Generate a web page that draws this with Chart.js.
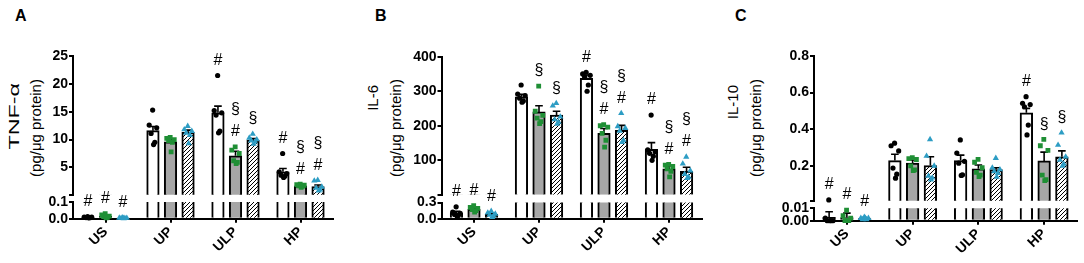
<!DOCTYPE html>
<html><head><meta charset="utf-8">
<script src="https://cdn.jsdelivr.net/npm/chart.js"></script>
<style>
html,body{margin:0;padding:0;background:#fff;}
#wrap{position:relative;width:1084px;height:263px;overflow:hidden;font-family:"Liberation Sans",Arial,Helvetica,sans-serif;background:#fff;}
#wrap canvas{position:absolute;}
.lbl{position:absolute;font-weight:bold;font-size:16px;line-height:16px;color:#000;}
.yt{position:absolute;transform-origin:0 0;transform:rotate(-90deg);font-size:15px;line-height:18px;height:18px;white-space:nowrap;color:#000;}
.yt.end{width:120px;text-align:right;}
.yt.mid{width:160px;text-align:center;}
.stretch{display:inline-block;transform:scaleX(1.55);transform-origin:100% 50%;}
</style></head><body>
<div id="wrap">
<div class="lbl" style="left:15px;top:8px">A</div>
<div class="lbl" style="left:375px;top:8px">B</div>
<div class="lbl" style="left:735px;top:8px">C</div>
<div class="yt end" style="left:5.2px;top:203px"><span class="stretch">TNF-α</span></div>
<div class="yt mid" style="left:26.8px;top:208px">(pg/μg protein)</div>
<div class="yt end" style="left:363.5px;top:205px">IL-6</div>
<div class="yt mid" style="left:386.7px;top:208px">(pg/μg protein)</div>
<div class="yt end" style="left:723.5px;top:205px">IL-10</div>
<div class="yt mid" style="left:746.7px;top:208px">(pg/μg protein)</div>
</div>
<script>
const FAM = '"Liberation Sans", Arial, Helvetica, sans-serif';
Chart.defaults.font.family = FAM;
Chart.defaults.color = '#000';

const categories = ['US', 'UP', 'ULP', 'HP'];
// series order: [white bars / black dots, grey bars / green squares, hatched bars / teal triangles]

// ---------- Panel A : TNF-α ----------
const tnfMeans = [
  [0.008, 11.6, 14.8, 4.2],
  [0.015, 9.6, 7.1, 1.7],
  [0.004, 11.3, 9.9, 1.55]
];
const tnfSems = [
  [0.002, 0.75, 1.2, 0.6],
  [0.004, 0.4, 0.8, 0.1],
  [0.001, 0.4, 0.3, 0.3]
];
const tnfPoints = [
  [[0.012, 0.01, 0.009, 0.007, 0.006, 0.005], [15.3, 12.6, 12.1, 11.1, 9.5, 9.1], [21.5, 15.2, 14.8, 14.4, 11.5, 11.2], [7.5, 4.2, 3.9, 3.6, 3.4, 3.2]],
  [[0.03, 0.022, 0.015, 0.012, 0.008, 0.005], [10.4, 10.2, 10.0, 9.8, 9.5, 7.8], [8.7, 8.1, 7.5, 6.2, 5.9, 5.7], [2.0, 1.9, 1.8, 1.7, 1.6, 1.4]],
  [[0.006, 0.005, 0.004, 0.004, 0.003, 0.002], [12.4, 11.8, 11.5, 11.2, 10.8, 9.3], [11.0, 10.3, 10.0, 9.8, 9.6, 9.2], [2.7, 2.6, 1.5, 1.3, 1.0, 0.8]]
];
const tnfMarks = [
  [['#'], [], ['#'], ['#']],
  [['#'], [], ['#', '§'], ['#', '§']],
  [['#'], [], ['§'], ['#', '§']]
];
const tnfUpperTicks = [5, 10, 15, 20, 25];
const tnfUpperLabels = ['5', '10', '15', '20', '25'];
const tnfLowerTicks = [0, 0.1];
const tnfLowerLabels = ['0.0', '0.1'];

// ---------- Panel B : IL-6 ----------
const il6Means = [
  [0.105, 284, 337, 132],
  [0.175, 240, 178, 75],
  [0.08, 231, 187, 68]
];
const il6Sems = [
  [0.03, 7, 10, 19],
  [0.02, 18, 14, 9],
  [0.02, 11, 14, 12]
];
const il6Points = [
  [[0.22, 0.12, 0.10, 0.08, 0.06, 0.05], [318, 292, 287, 280, 272, 268], [355, 350, 346, 342, 318, 300], [231, 130, 125, 120, 112, 100]],
  [[0.24, 0.21, 0.19, 0.17, 0.15, 0.12], [315, 242, 230, 222, 212, 206], [203, 200, 196, 178, 158, 138], [88, 86, 82, 75, 68, 52]],
  [[0.14, 0.11, 0.09, 0.07, 0.05, 0.03], [265, 258, 226, 218, 211, 205], [236, 198, 193, 185, 158, 152], [110, 90, 70, 60, 52, 48]]
];
const il6Marks = [
  [['#'], [], ['#'], ['#']],
  [['#'], ['§'], ['#', '§'], ['#', '§']],
  [['#'], ['§'], ['#', '§'], ['#', '§']]
];
const il6UpperTicks = [100, 200, 300, 400];
const il6UpperLabels = ['100', '200', '300', '400'];
const il6LowerTicks = [0, 0.3];
const il6LowerLabels = ['0.0', '0.3'];

// ---------- Panel C : IL-10 ----------
const il10Means = [
  [0.0027, 0.229, 0.229, 0.49],
  [0.0026, 0.215, 0.184, 0.227],
  [0.0018, 0.202, 0.18, 0.25]
];
const il10Sems = [
  [0.0045, 0.035, 0.03, 0.024],
  [0.0035, 0.018, 0.021, 0.048],
  [0.0004, 0.048, 0.01, 0.032]
];
const il10Points = [
  [[0.014, 0.002, 0.0, 0.0, 0.0, 0.0], [0.324, 0.31, 0.282, 0.188, 0.155, 0.133], [0.342, 0.27, 0.225, 0.215, 0.151, 0.148], [0.578, 0.542, 0.535, 0.523, 0.423, 0.369]],
  [[0.0086, 0.004, 0.002, 0.0, 0.0, 0.0], [0.245, 0.24, 0.235, 0.2, 0.178, 0.175], [0.236, 0.22, 0.19, 0.165, 0.15, 0.142], [0.345, 0.31, 0.285, 0.15, 0.125, 0.12]],
  [[0.003, 0.002, 0.002, 0.001, 0.001, 0.002], [0.345, 0.254, 0.2, 0.145, 0.135, 0.124], [0.242, 0.19, 0.18, 0.17, 0.16, 0.14], [0.381, 0.314, 0.25, 0.233, 0.21, 0.2]]
];
const il10Marks = [
  [['#'], [], [], ['#']],
  [['#'], [], [], ['§']],
  [['#'], [], [], ['§']]
];
const il10UpperTicks = [0.2, 0.4, 0.6, 0.8];
const il10UpperLabels = ['0.2', '0.4', '0.6', '0.8'];
const il10LowerTicks = [0, 0.01];
const il10LowerLabels = ['0.00', '0.01'];

// ---------- layout / style ----------
const CAT_PCT = 0.81, BAR_PCT = 0.714;
const SLOT = CAT_PCT / 3;
const HALF_BAR = SLOT * BAR_PCT / 2;
const JIT = [-0.05, -0.6, 0.6, -0.3, 0.3, 0.1];
const GREEN = '#1f8f35', TEAL = '#2d9dc4', GREY = '#a6a6a6';

function hatchPattern() {
  const c = document.createElement('canvas');
  c.width = 4; c.height = 4;
  const g = c.getContext('2d');
  g.fillStyle = '#fff'; g.fillRect(0, 0, 4, 4);
  g.strokeStyle = '#000'; g.lineWidth = 1;
  g.beginPath();
  g.moveTo(-1, 5); g.lineTo(5, -1);
  g.moveTo(-1, 1); g.lineTo(1, -1);
  g.moveTo(3, 5); g.lineTo(5, 3);
  g.stroke();
  return g.createPattern(c, 'repeat');
}
const FILLS = ['#ffffff', GREY, hatchPattern()];
const PSTYLE = ['circle', 'rect', 'triangle'];
const PRAD = [2.6, 3.4, 3.6];
const PCOL = ['#000000', GREEN, TEAL];

const panels = [
  { key: 'A', means: tnfMeans, sems: tnfSems, pts: tnfPoints, marks: tnfMarks,
    upTicks: tnfUpperTicks, upLabels: tnfUpperLabels, loTicks: tnfLowerTicks, loLabels: tnfLowerLabels,
    geo: { left: 0, axisX: 73, xEnd: 333, upTop: 56, upBot: 194.7, loTop: 202, loBot: 218.7 } },
  { key: 'B', means: il6Means, sems: il6Sems, pts: il6Points, marks: il6Marks,
    upTicks: il6UpperTicks, upLabels: il6UpperLabels, loTicks: il6LowerTicks, loLabels: il6LowerLabels,
    geo: { left: 360, axisX: 441.5, xEnd: 701.5, upTop: 56.7, upBot: 194.7, loTop: 202.5, loBot: 218.7 } },
  { key: 'C', means: il10Means, sems: il10Sems, pts: il10Points, marks: il10Marks,
    upTicks: il10UpperTicks, upLabels: il10UpperLabels, loTicks: il10LowerTicks, loLabels: il10LowerLabels,
    geo: { left: 720, axisX: 814, xEnd: 1077, upTop: 56, upBot: 200.7, loTop: 208.3, loBot: 220.7 } }
];

function marksPlugin(p, upper, brk) {
  return {
    id: 'marks' + p.key + (upper ? 'U' : 'L'),
    afterDraw(chart) {
      const ctx = chart.ctx, ys = chart.scales.y, xs = chart.scales.xp;
      ctx.save();
      ctx.fillStyle = '#000';
      ctx.font = '16px ' + FAM;
      ctx.textAlign = 'center';
      ctx.textBaseline = 'middle';
      for (let s = 0; s < 3; s++) for (let i = 0; i < categories.length; i++) {
        const list = p.marks[s][i];
        if (!list.length) continue;
        const topVal = Math.max(p.means[s][i] + p.sems[s][i], ...p.pts[s][i]);
        if ((topVal >= brk) !== upper) continue;
        const x = xs.getPixelForValue(i + (s - 1) * SLOT);
        const y = ys.getPixelForValue(topVal) - 15;
        list.forEach((m, k) => ctx.fillText(m, x, y - 22 * k));
      }
      ctx.restore();
    }
  };
}

const wrap = document.getElementById('wrap');

function build(p, upper) {
  const g = p.geo;
  const brk = p.loTicks[p.loTicks.length - 1];
  const top = p.upTicks[p.upTicks.length - 1];
  const cTop = upper ? 0 : 180;
  const cH = upper ? Math.ceil(g.upBot + 12) : 263 - cTop;
  const cW = Math.ceil(g.xEnd - g.left + 12);
  const cv = document.createElement('canvas');
  cv.width = cW; cv.height = cH;
  Object.assign(cv.style, { left: g.left + 'px', top: cTop + 'px', width: cW + 'px', height: cH + 'px' });
  wrap.appendChild(cv);

  const catW = (g.xEnd - g.axisX) / categories.length;
  const barW = catW * SLOT * BAR_PCT;
  const inRange = v => upper ? v >= brk : v < brk;
  const datasets = [];
  for (let s = 0; s < 3; s++) {
    const xo = (s - 1) * SLOT;
    // bars (mean)
    datasets.push({
      type: 'bar', xAxisID: 'xp', yAxisID: 'y', grouped: false, barThickness: barW,
      data: p.means[s].map((m, i) => ({ x: i + xo, y: m })),
      backgroundColor: FILLS[s], borderColor: '#000', borderWidth: 2, clip: 0, order: 3
    });
    // SEM stems
    const stem = [];
    p.means[s].forEach((m, i) => {
      stem.push({ x: i + xo, y: m }, { x: i + xo, y: m + p.sems[s][i] }, { x: i + xo, y: null });
    });
    datasets.push({
      type: 'line', xAxisID: 'xp', yAxisID: 'y', data: stem,
      borderColor: '#000', borderWidth: 1.6, pointRadius: 0, spanGaps: false, fill: false,
      tension: 0, clip: 0, order: 2
    });
    // SEM caps
    datasets.push({
      type: 'scatter', xAxisID: 'xp', yAxisID: 'y',
      data: p.means[s].map((m, i) => ({ x: i + xo, y: m + p.sems[s][i] })).filter(d => inRange(d.y)),
      pointStyle: 'line', pointRadius: 3.8, pointBorderWidth: 1.6, pointBorderColor: '#000', clip: 0, order: 2
    });
    // individual values
    const pts = [];
    p.pts[s].forEach((arr, i) => arr.forEach((v, k) => {
      if (inRange(v)) pts.push({ x: i + xo + JIT[k % JIT.length] * HALF_BAR, y: v });
    }));
    datasets.push({
      type: 'scatter', xAxisID: 'xp', yAxisID: 'y', data: pts,
      pointStyle: PSTYLE[s], pointRadius: PRAD[s], pointBackgroundColor: PCOL[s],
      pointBorderColor: PCOL[s], pointBorderWidth: 0, clip: 3, order: 0
    });
  }

  const tickVals = upper ? [brk, ...p.upTicks] : p.loTicks;
  const yScale = {
    type: 'linear', position: 'left',
    min: upper ? brk : 0, max: upper ? top : brk,
    afterBuildTicks: sc => { sc.ticks = tickVals.map(v => ({ value: v })); },
    afterFit: sc => { sc.width = g.axisX - g.left; },
    ticks: {
      autoSkip: false, padding: 1, color: '#000',
      font: { size: 14, weight: 'bold', family: FAM },
      callback: (v, idx) => upper ? (idx === 0 ? '' : p.upLabels[idx - 1]) : p.loLabels[idx]
    },
    grid: { drawOnChartArea: false, drawTicks: true, tickLength: 4, color: '#000', lineWidth: 2 },
    border: { display: true, color: '#000', width: 2 }
  };

  const xScale = {
    type: 'category', position: 'bottom', offset: true, display: !upper,
    grid: { offset: false, drawOnChartArea: false, drawTicks: true, tickLength: 4, color: '#000', lineWidth: 2 },
    border: { display: true, color: '#000', width: 2 },
    ticks: { minRotation: 45, maxRotation: 45, autoSkip: false, padding: 1, color: '#000',
      font: { size: 14, weight: 'bold', family: FAM } }
  };
  if (!upper) xScale.afterFit = sc => { sc.height = 263 - g.loBot; };

  new Chart(cv, {
    type: 'bar',
    data: { labels: categories, datasets },
    options: {
      responsive: false, animation: false, devicePixelRatio: 1, events: [],
      layout: { padding: {
        left: 0, right: cW - (g.xEnd - g.left),
        top: upper ? g.upTop : g.loTop - cTop,
        bottom: upper ? cH - g.upBot : 0 } },
      plugins: { legend: { display: false }, tooltip: { enabled: false } },
      scales: {
        x: xScale,
        xp: { type: 'linear', display: false, offset: false, grid: { offset: false },
              min: -0.5, max: categories.length - 0.5 },
        y: yScale
      }
    },
    plugins: [marksPlugin(p, upper, brk)]
  });
}

panels.forEach(p => { build(p, true); build(p, false); });
</script>
</body></html>
